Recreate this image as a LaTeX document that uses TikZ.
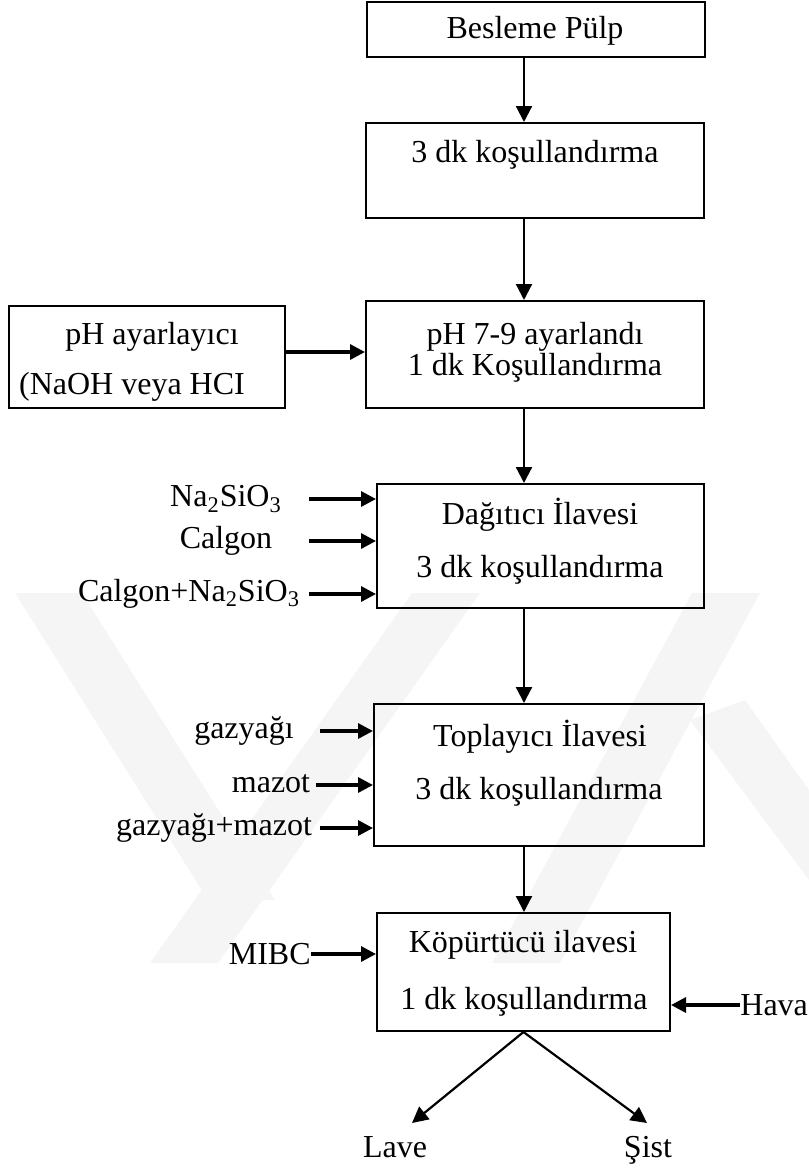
\documentclass[tikz,border=0pt]{standalone}
\usepackage{fontspec}
\setmainfont{Liberation Serif}
\usetikzlibrary{arrows.meta}

\begin{document}
\begin{tikzpicture}[x=0.5pt, y=-0.5pt, >={Triangle[length=8pt,width=8pt]},
  every node/.style={font=\fontsize{16}{19}\selectfont},
  box/.style={draw, line width=1pt, inner sep=0pt},
  txt/.style={inner sep=0pt},
  flow/.style={->, line width=1.1pt},
  feed/.style={->, line width=1.6pt, >={Triangle[length=7.5pt,width=7.5pt]}},
  wmark/.style={fill=black!4, draw=none}]
  \useasboundingbox (0,0) rectangle (809,1169);

  % faint watermark behind the chart
  \begin{scope}
    \clip (0,593) rectangle (809,963);
    \fill[wmark] (15,593) -- (82,593) -- (275,900) -- (208,900) -- cycle;
    \fill[wmark] (150,963) -- (218,963) -- (480,593) -- (412,593) -- cycle;
    \fill[wmark] (492,963) -- (560,963) -- (760,593) -- (692,593) -- cycle;
    \fill[wmark] (690,720) -- (745,700) -- (809,790) -- (809,880) -- cycle;
  \end{scope}

  % main axis of the flow
  \coordinate (ax) at (524,0);

  % process boxes
  \node[box, minimum width=169pt, minimum height=27.5pt] (besleme) at (535.5,29.5) {};
  \node[box, minimum width=169pt, minimum height=47.5pt] (kosul) at (535,170.5) {};
  \node[box, minimum width=169pt, minimum height=53.5pt] (phayar) at (535,354.5) {};
  \node[box, minimum width=138pt, minimum height=51pt] (phkutu) at (147,357) {};
  \node[box, minimum width=163.5pt, minimum height=62pt] (dagitici) at (540.5,546) {};
  \node[box, minimum width=165pt, minimum height=71pt] (toplayici) at (539,775) {};
  \node[box, minimum width=146.5pt, minimum height=59pt] (kopurtucu) at (523.5,972) {};

  % box texts
  \node[txt] (tbesleme) at (535,31) {Besleme Pülp};
  \node[txt] (tkosul) at (535,155) {3 dk koşullandırma};
  \node[txt] (tph1) at (535,337) {pH 7-9 ayarlandı};
  \node[txt] (tph2) at (535,368) {1 dk Koşullandırma};
  \node[txt] (tpk1) at (152,337) {pH ayarlayıcı};
  \node[txt] (tpk2) at (132,387) {(NaOH veya HCI};
  \node[txt] (tdag1) at (540,515) {Dağıtıcı İlavesi};
  \node[txt] (tdag2) at (540,570) {3 dk koşullandırma};
  \node[txt] (ttop1) at (540,737) {Toplayıcı İlavesi};
  \node[txt] (ttop2) at (539,792) {3 dk koşullandırma};
  \node[txt] (tkop1) at (523,945) {Köpürtücü ilavesi};
  \node[txt] (tkop2) at (524,1002) {1 dk koşullandırma};

  % main flow
  \draw[flow] (besleme.south -| ax) -- (kosul.north -| ax);
  \draw[flow] (kosul.south -| ax) -- (phayar.north -| ax);
  \draw[flow] (phayar.south -| ax) -- (dagitici.north -| ax);
  \draw[flow] (dagitici.south -| ax) -- (toplayici.north -| ax);
  \draw[flow] (toplayici.south -| ax) -- (kopurtucu.north -| ax);
  \draw[feed] (phkutu.east |- 0,352) -- (phayar.west |- 0,352);

  % dispersant feeds
  \node[txt] (lna) at (226,499) {Na\textsubscript{2}SiO\textsubscript{3}};
  \node[txt] (lcal) at (226,541) {Calgon};
  \node[txt] (lcalna) at (189,594) {Calgon+Na\textsubscript{2}SiO\textsubscript{3}};
  \coordinate (na) at (309,499);
  \coordinate (cal) at (309,541);
  \coordinate (calna) at (309,594);
  \draw[feed] (na) -- (na -| dagitici.west);
  \draw[feed] (cal) -- (cal -| dagitici.west);
  \draw[feed] (calna) -- (calna -| dagitici.west);

  % collector feeds
  \node[txt] (lgaz) at (244,731) {gazyağı};
  \node[txt] (lmaz) at (271,784) {mazot};
  \node[txt] (lgazmaz) at (214,828) {gazyağı+mazot};
  \coordinate (gaz) at (320,731);
  \coordinate (maz) at (316,785);
  \coordinate (gazmaz) at (320,828);
  \draw[feed] (gaz) -- (gaz -| toplayici.west);
  \draw[feed] (maz) -- (maz -| toplayici.west);
  \draw[feed] (gazmaz) -- (gazmaz -| toplayici.west);

  % frother and air
  \node[txt, anchor=east] (mibc) at (311,954) {MIBC};
  \node[txt, anchor=west] (hava) at (740,1005) {Hava};
  \draw[feed] (mibc.east) -- (mibc.east -| kopurtucu.west);
  \draw[feed] (hava.west) -- (hava.west -| kopurtucu.east);

  % products
  \node[txt, anchor=base] (lave) at (395,1157) {Lave};
  \node[txt, anchor=base] (sist) at (648,1157) {Şist};
  \coordinate (lv) at (412,1123);
  \coordinate (sv) at (647,1123);
  \draw[flow] (kopurtucu.south) -- (lv);
  \draw[flow] (kopurtucu.south) -- (sv);
\end{tikzpicture}
\end{document}
